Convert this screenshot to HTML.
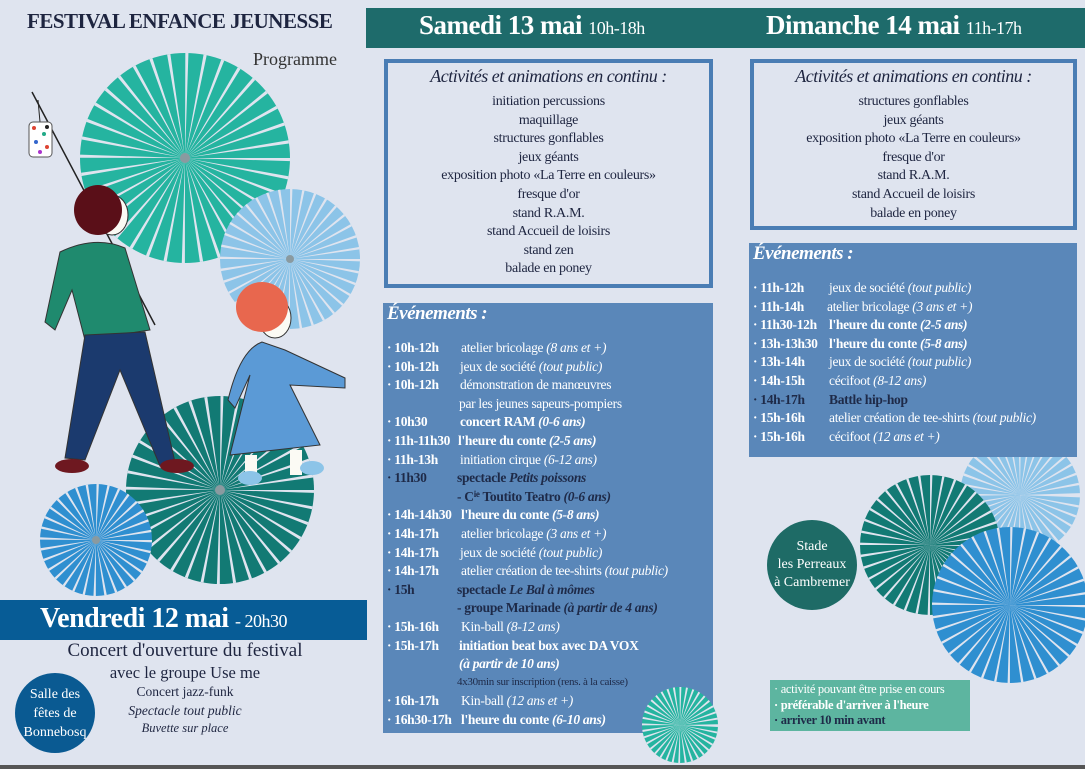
<!DOCTYPE html>
<html><head><meta charset="utf-8">
<style>
*{margin:0;padding:0;box-sizing:border-box}
body{width:1085px;height:769px;background:#dfe4ef;position:relative;overflow:hidden;font-family:"Liberation Serif",serif;color:#1e2540}
.a{position:absolute;white-space:nowrap}
.c{text-align:center}
.box{position:absolute;border:4px solid #4a7db4}
.ev{position:absolute;background:#5a87b9}
.row{position:absolute;left:0;height:19px;font-size:13.5px;line-height:19px;color:#fff;white-space:nowrap;letter-spacing:-0.3px}
.row .t{position:absolute;left:4px;font-weight:bold}
.row .d{position:absolute}
.b{font-weight:bold}
.k{color:#1e2a48;font-weight:bold}
i{font-style:italic}
sup{font-size:9px;line-height:0;vertical-align:4px}
.list div{height:18.6px;line-height:18.6px;font-size:14px;letter-spacing:-0.3px}
</style></head><body>

<svg class="a" style="left:0;top:0" width="1085" height="769">
 <g>
  <circle cx="185" cy="158" r="105" fill="#25b4a0"/>
  <circle cx="185" cy="158" r="52.5" fill="none" stroke="#dfe4ef" stroke-width="105" stroke-dasharray="1.6 7.56"/>
  <circle cx="185" cy="158" r="5" fill="#8a9aa0"/>
  <circle cx="290" cy="259" r="70" fill="#8cc4e8"/>
  <circle cx="290" cy="259" r="35" fill="none" stroke="#dfe4ef" stroke-width="70" stroke-dasharray="1.2 4.9"/>
  <circle cx="290" cy="259" r="4" fill="#8a9aa0"/>
  <circle cx="220" cy="490" r="94" fill="#127a74"/>
  <circle cx="220" cy="490" r="47" fill="none" stroke="#dfe4ef" stroke-width="94" stroke-dasharray="1.5 6.7"/>
  <circle cx="220" cy="490" r="5" fill="#8a9aa0"/>
  <circle cx="96" cy="540" r="56" fill="#2f8fd0"/>
  <circle cx="96" cy="540" r="28" fill="none" stroke="#dfe4ef" stroke-width="56" stroke-dasharray="1.2 4.3"/>
  <circle cx="96" cy="540" r="4" fill="#8a9aa0"/>
  <circle cx="1020" cy="495" r="60" fill="#8cc4e8"/>
  <circle cx="1020" cy="495" r="30" fill="none" stroke="#dfe4ef" stroke-width="60" stroke-dasharray="1.2 4"/>
  <circle cx="930" cy="545" r="70" fill="#127a74"/>
  <circle cx="930" cy="545" r="35" fill="none" stroke="#dfe4ef" stroke-width="70" stroke-dasharray="1.2 4.9"/>
  <circle cx="1010" cy="605" r="78" fill="#2f8fd0"/>
  <circle cx="1010" cy="605" r="39" fill="none" stroke="#dfe4ef" stroke-width="78" stroke-dasharray="1.2 5.6"/>
 </g>
 <line x1="32" y1="92" x2="155" y2="325" stroke="#222" stroke-width="1.5"/>
 <line x1="38" y1="100" x2="40" y2="122" stroke="#222" stroke-width="1"/>
 <rect x="29" y="122" width="23" height="35" rx="4" fill="#fff" stroke="#555"/>
 <g fill="#d43">
  <circle cx="34" cy="128" r="2"/><circle cx="44" cy="134" r="2" fill="#2a8"/><circle cx="36" cy="142" r="2" fill="#36c"/><circle cx="47" cy="147" r="2"/><circle cx="40" cy="152" r="2" fill="#a3c"/><circle cx="47" cy="127" r="2" fill="#222"/>
 </g>
 <path d="M60 252 Q95 235 125 248 L150 330 L85 340 L72 290 L55 330 L45 322 Z" fill="#1f8a6e" stroke="#333" stroke-width="1"/>
 <path d="M85 335 L145 332 L175 462 L160 466 L120 370 L85 460 L65 458 Z" fill="#1b3a6e" stroke="#333" stroke-width="1"/>
 <ellipse cx="72" cy="466" rx="17" ry="7" fill="#6e1820"/>
 <ellipse cx="177" cy="466" rx="17" ry="7" fill="#6e1820"/>
 <ellipse cx="112" cy="215" rx="16" ry="20" fill="#fbfaf4" stroke="#333" stroke-width="1"/>
 <ellipse cx="98" cy="210" rx="24" ry="25" fill="#5a0f18"/>
 <path d="M262 342 Q240 350 228 400 L235 408 L250 375 L230 455 L320 445 L290 385 L345 388 L345 378 L285 350 Z" fill="#5b9ad6" stroke="#333" stroke-width="1"/>
 <rect x="245" y="455" width="12" height="25" fill="#fbfaf4"/>
 <rect x="290" y="450" width="12" height="25" fill="#fbfaf4"/>
 <ellipse cx="250" cy="478" rx="12" ry="7" fill="#8cc4e8"/>
 <ellipse cx="312" cy="468" rx="12" ry="7" fill="#8cc4e8"/>
 <ellipse cx="275" cy="318" rx="16" ry="20" fill="#fbfaf4" stroke="#333" stroke-width="1"/>
 <ellipse cx="262" cy="307" rx="26" ry="25" fill="#e8674e"/>
 <rect x="0" y="765" width="1085" height="4" fill="#555"/>
</svg>

<div class="a" style="left:27px;top:9px;font-size:21px;font-weight:bold;letter-spacing:-0.5px;color:#1e2540">FESTIVAL ENFANCE JEUNESSE</div>
<div class="a" style="left:253px;top:49px;font-size:18px;color:#333">Programme</div>

<div class="a" style="left:366px;top:8px;width:719px;height:40px;background:#1e6b6b"></div>
<div class="a" style="left:419px;top:10px;color:#fff;font-size:27px;font-weight:bold;letter-spacing:-0.5px">Samedi 13 mai <span style="font-size:18px;font-weight:normal">10h-18h</span></div>
<div class="a" style="left:766px;top:10px;color:#fff;font-size:27px;font-weight:bold;letter-spacing:-0.5px">Dimanche 14 mai <span style="font-size:18px;font-weight:normal">11h-17h</span></div>

<div class="box" style="left:384px;top:59px;width:329px;height:229px"></div>
<div class="a c" style="left:384px;top:66px;width:329px;font-size:18px;font-style:italic;letter-spacing:-0.5px">Activités et animations en continu :</div>
<div class="a c list" style="left:384px;top:93px;width:329px">
<div>initiation percussions</div><div>maquillage</div><div>structures gonflables</div><div>jeux géants</div><div>exposition photo «La Terre en couleurs»</div><div>fresque d'or</div><div>stand R.A.M.</div><div>stand Accueil de loisirs</div><div>stand zen</div><div>balade en poney</div>
</div>

<div class="box" style="left:750px;top:59px;width:327px;height:171px"></div>
<div class="a c" style="left:750px;top:66px;width:327px;font-size:18px;font-style:italic;letter-spacing:-0.5px">Activités et animations en continu :</div>
<div class="a c list" style="left:750px;top:93px;width:327px">
<div>structures gonflables</div><div>jeux géants</div><div>exposition photo «La Terre en couleurs»</div><div>fresque d'or</div><div>stand R.A.M.</div><div>stand Accueil de loisirs</div><div>balade en poney</div>
</div>

<div class="ev" style="left:383px;top:303px;width:330px;height:430px">
 <div class="a" style="left:4px;top:0px;color:#fff;font-size:19px;font-style:italic;font-weight:bold;letter-spacing:-0.5px">Événements :</div>
 <div class="row" style="top:35px"><span class="t">· 10h-12h</span><span class="d" style="left:78px">atelier bricolage <i>(8 ans et +)</i></span></div>
 <div class="row" style="top:53.6px"><span class="t">· 10h-12h</span><span class="d" style="left:77px">jeux de société <i>(tout public)</i></span></div>
 <div class="row" style="top:72.2px"><span class="t">· 10h-12h</span><span class="d" style="left:77px">démonstration de manœuvres</span></div>
 <div class="row" style="top:90.8px"><span class="d" style="left:76px">par les jeunes sapeurs-pompiers</span></div>
 <div class="row" style="top:109.4px"><span class="t">· 10h30</span><span class="d b" style="left:77px">concert RAM <i>(0-6 ans)</i></span></div>
 <div class="row" style="top:128px"><span class="t">· 11h-11h30</span><span class="d b" style="left:75px">l'heure du conte <i>(2-5 ans)</i></span></div>
 <div class="row" style="top:146.6px"><span class="t">· 11h-13h</span><span class="d" style="left:77px">initiation cirque <i>(6-12 ans)</i></span></div>
 <div class="row" style="top:165.2px"><span class="t k">· 11h30</span><span class="d k" style="left:74px">spectacle <i>Petits poissons</i></span></div>
 <div class="row" style="top:183.8px"><span class="d k" style="left:74px">- C<sup>ie</sup> Toutito Teatro <i>(0-6 ans)</i></span></div>
 <div class="row" style="top:202.4px"><span class="t">· 14h-14h30</span><span class="d b" style="left:78px">l'heure du conte <i>(5-8 ans)</i></span></div>
 <div class="row" style="top:221px"><span class="t">· 14h-17h</span><span class="d" style="left:78px">atelier bricolage <i>(3 ans et +)</i></span></div>
 <div class="row" style="top:239.6px"><span class="t">· 14h-17h</span><span class="d" style="left:77px">jeux de société <i>(tout public)</i></span></div>
 <div class="row" style="top:258.2px"><span class="t">· 14h-17h</span><span class="d" style="left:78px">atelier création de tee-shirts <i>(tout public)</i></span></div>
 <div class="row" style="top:276.8px"><span class="t k">· 15h</span><span class="d k" style="left:74px">spectacle <i>Le Bal à mômes</i></span></div>
 <div class="row" style="top:295.4px"><span class="d k" style="left:74px">- groupe Marinade <i>(à partir de 4 ans)</i></span></div>
 <div class="row" style="top:314px"><span class="t">· 15h-16h</span><span class="d" style="left:78px">Kin-ball <i>(8-12 ans)</i></span></div>
 <div class="row" style="top:332.6px"><span class="t">· 15h-17h</span><span class="d b" style="left:76px">initiation beat box avec DA VOX</span></div>
 <div class="row" style="top:351.2px"><span class="d b" style="left:76px"><i>(à partir de 10 ans)</i></span></div>
 <div class="row" style="top:369.8px;font-size:11px"><span class="d k" style="left:74px;font-weight:normal">4x30min sur inscription (rens. à la caisse)</span></div>
 <div class="row" style="top:388.4px"><span class="t">· 16h-17h</span><span class="d" style="left:78px">Kin-ball <i>(12 ans et +)</i></span></div>
 <div class="row" style="top:407px"><span class="t">· 16h30-17h</span><span class="d b" style="left:78px">l'heure du conte <i>(6-10 ans)</i></span></div>
</div>
<svg class="a" style="left:640px;top:685px" width="80" height="84">
 <circle cx="40" cy="40" r="38" fill="#25b4a0"/>
 <circle cx="40" cy="40" r="19" fill="none" stroke="#dfe4ef" stroke-width="38" stroke-dasharray="1 2.3"/>
</svg>

<div class="ev" style="left:749px;top:243px;width:328px;height:214px">
 <div class="a" style="left:4px;top:0px;color:#fff;font-size:19px;font-style:italic;font-weight:bold;letter-spacing:-0.5px">Événements :</div>
 <div class="row" style="top:35px"><span class="t">· 11h-12h</span><span class="d" style="left:80px">jeux de société <i>(tout public)</i></span></div>
 <div class="row" style="top:53.6px"><span class="t">· 11h-14h</span><span class="d" style="left:78px">atelier bricolage <i>(3 ans et +)</i></span></div>
 <div class="row" style="top:72.2px"><span class="t">· 11h30-12h</span><span class="d b" style="left:80px">l'heure du conte <i>(2-5 ans)</i></span></div>
 <div class="row" style="top:90.8px"><span class="t">· 13h-13h30</span><span class="d b" style="left:80px">l'heure du conte <i>(5-8 ans)</i></span></div>
 <div class="row" style="top:109.4px"><span class="t">· 13h-14h</span><span class="d" style="left:80px">jeux de société <i>(tout public)</i></span></div>
 <div class="row" style="top:128px"><span class="t">· 14h-15h</span><span class="d" style="left:80px">cécifoot <i>(8-12 ans)</i></span></div>
 <div class="row" style="top:146.6px"><span class="t k">· 14h-17h</span><span class="d k" style="left:80px">Battle hip-hop</span></div>
 <div class="row" style="top:165.2px"><span class="t">· 15h-16h</span><span class="d" style="left:80px">atelier création de tee-shirts <i>(tout public)</i></span></div>
 <div class="row" style="top:183.8px"><span class="t">· 15h-16h</span><span class="d" style="left:80px">cécifoot <i>(12 ans et +)</i></span></div>
</div>

<div class="a c" style="left:767px;top:520px;width:90px;height:90px;border-radius:50%;background:#1e6b66;color:#fff;font-size:14px;line-height:18px;padding-top:18px">Stade<br>les Perreaux<br>à Cambremer</div>

<div class="a" style="left:770px;top:680px;width:200px;height:51px;background:#5db5a0;padding:2px 4px;font-size:12.5px;line-height:15.5px;letter-spacing:-0.3px">
 <div style="color:#fff">· activité pouvant être prise en cours</div>
 <div style="color:#fff;font-weight:bold">· préférable d'arriver à l'heure</div>
 <div style="color:#1e2a48;font-weight:bold">· arriver 10 min avant</div>
</div>

<div class="a" style="left:0;top:600px;width:367px;height:40px;background:#075c96"></div>
<div class="a" style="left:40px;top:603px;color:#fff;font-size:28px;font-weight:bold;letter-spacing:-0.5px">Vendredi 12 mai <span style="font-size:18px;font-weight:normal">- 20h30</span></div>
<div class="a c" style="left:35px;top:640px;width:300px;font-size:19px">Concert d'ouverture du festival</div>
<div class="a c" style="left:35px;top:663px;width:300px;font-size:16.5px">avec le groupe Use me</div>
<div class="a c" style="left:35px;top:684px;width:300px;font-size:13.5px">Concert jazz-funk</div>
<div class="a c" style="left:35px;top:703px;width:300px;font-size:13.5px;font-style:italic">Spectacle tout public</div>
<div class="a c" style="left:35px;top:721px;width:300px;font-size:12.5px;font-style:italic">Buvette sur place</div>
<div class="a c" style="left:15px;top:673px;width:80px;height:80px;border-radius:50%;background:#0a5a92;color:#fff;font-size:14px;line-height:19px;padding-top:12px">Salle des<br>fêtes de<br>Bonnebosq</div>

</body></html>
